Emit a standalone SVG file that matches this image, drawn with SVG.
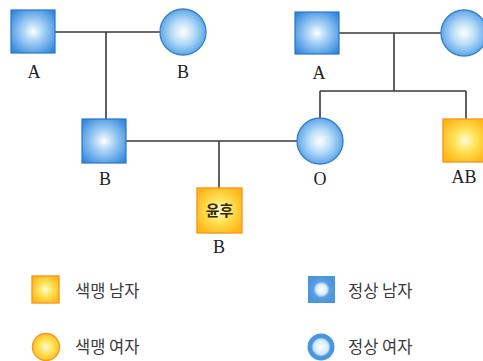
<svg xmlns="http://www.w3.org/2000/svg" width="483" height="361" viewBox="0 0 483 361">
  <defs>
    <radialGradient id="blueSq" cx="50%" cy="50%" r="65%">
      <stop offset="0" stop-color="#ffffff"/>
      <stop offset="0.35" stop-color="#a9d3f6"/>
      <stop offset="1" stop-color="#2f86dc"/>
    </radialGradient>
    <radialGradient id="blueCi" cx="50%" cy="50%" r="55%">
      <stop offset="0" stop-color="#ffffff"/>
      <stop offset="0.45" stop-color="#b8dcf8"/>
      <stop offset="1" stop-color="#4e9de6"/>
    </radialGradient>
    <radialGradient id="yel" cx="50%" cy="50%" r="60%">
      <stop offset="0" stop-color="#fffbe0"/>
      <stop offset="0.4" stop-color="#ffe45a"/>
      <stop offset="1" stop-color="#ffb516"/>
    </radialGradient>
    <radialGradient id="legBlueSq" cx="50%" cy="50%" r="50%">
      <stop offset="0" stop-color="#ffffff"/>
      <stop offset="0.4" stop-color="#d8ecfa"/>
      <stop offset="0.6" stop-color="#5a9fe2"/>
      <stop offset="1" stop-color="#4a95e0"/>
    </radialGradient>
    <radialGradient id="legBlueCi" cx="50%" cy="50%" r="50%">
      <stop offset="0" stop-color="#ffffff"/>
      <stop offset="0.55" stop-color="#cfe7f8"/>
      <stop offset="0.72" stop-color="#4a95e0"/>
      <stop offset="1" stop-color="#4a95e0"/>
    </radialGradient>
  </defs>
  <style>
    .line { stroke: #3a3a3a; stroke-width: 1.6; fill: none; }
    .msq { fill: url(#blueSq); stroke: #2a76c6; stroke-width: 1.2; }
    .fci { fill: url(#blueCi); stroke: #3a82cc; stroke-width: 1.4; }
    .ysq { fill: url(#yel); stroke: #f59a1e; stroke-width: 1.4; }
    .lbl { font-family: "Liberation Serif", serif; font-size: 18px; fill: #222; text-anchor: middle; }
    .leg { font-family: "Noto Sans CJK KR", sans-serif; font-size: 16.5px; fill: #3a3a3a; }
    .name { font-family: "Noto Sans CJK KR", sans-serif; font-size: 15px; font-weight: bold; fill: #2e2a00; text-anchor: middle; }
  </style>
  <rect width="483" height="361" fill="#ffffff"/>

  <g id="connectors">
    <path class="line" d="M55 32 H160 M106 32 V119"/>
    <path class="line" d="M339 33 H441 M394 33 V91 M320 91 H466 M320 91 V118 M466 91 V119"/>
    <path class="line" d="M126 141 H297 M219 141 V188"/>
  </g>

  <g id="grandfather-a-left">
    <rect class="msq" x="11" y="10" width="44" height="43"/>
    <text class="lbl" x="34" y="78">A</text>
  </g>
  <g id="grandmother-b-left">
    <circle class="fci" cx="183" cy="32" r="23"/>
    <text class="lbl" x="183" y="78">B</text>
  </g>
  <g id="grandfather-a-right">
    <rect class="msq" x="295" y="12" width="44" height="42"/>
    <text class="lbl" x="319" y="79">A</text>
  </g>
  <g id="grandmother-right">
    <circle class="fci" cx="464" cy="33" r="23"/>
  </g>
  <g id="father-b">
    <rect class="msq" x="82" y="119" width="44" height="44"/>
    <text class="lbl" x="105" y="185">B</text>
  </g>
  <g id="mother-o">
    <circle class="fci" cx="320" cy="141" r="23"/>
    <text class="lbl" x="320" y="185">O</text>
  </g>
  <g id="uncle-ab">
    <rect class="ysq" x="443" y="119" width="44" height="43"/>
    <text class="lbl" x="464" y="183">AB</text>
  </g>
  <g id="yunhu-b">
    <rect class="ysq" x="197" y="188" width="45" height="45"/>
    <text class="name" x="219.5" y="216">윤후</text>
    <text class="lbl" x="219" y="253">B</text>
  </g>

  <g id="legend">
    <rect class="ysq" x="32" y="276" width="27" height="27"/>
    <text class="leg" x="75" y="297">색맹 남자</text>
    <rect x="308" y="276" width="27" height="27" fill="url(#legBlueSq)"/>
    <text class="leg" x="348" y="297">정상 남자</text>
    <circle cx="46" cy="347" r="13.5" fill="url(#yel)" stroke="#f59a1e" stroke-width="1.4"/>
    <text class="leg" x="75" y="353">색맹 여자</text>
    <circle cx="321" cy="347" r="13.5" fill="url(#legBlueCi)"/>
    <text class="leg" x="348" y="353">정상 여자</text>
  </g>
</svg>
